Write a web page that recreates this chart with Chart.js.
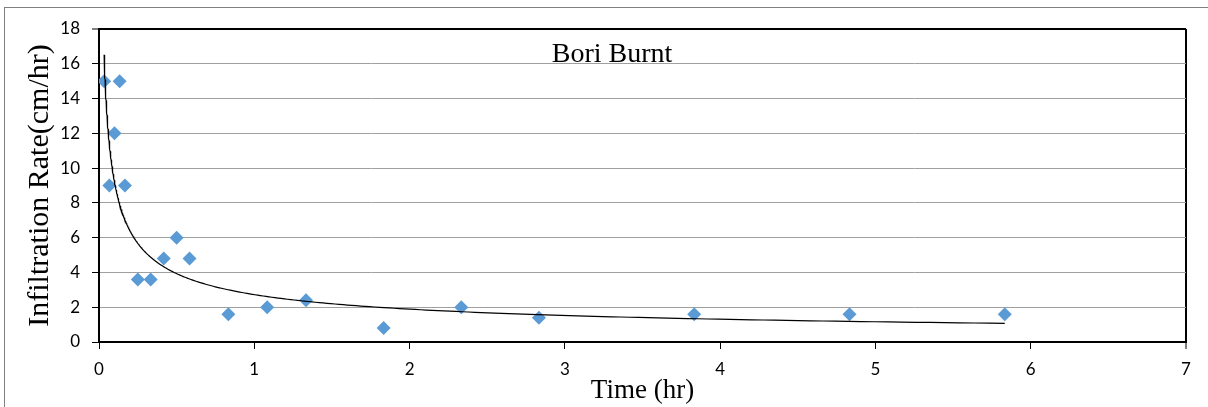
<!DOCTYPE html>
<html>
<head>
    <meta charset="utf-8">
    <title>Bori Burnt</title>
    <script src="https://cdn.jsdelivr.net/npm/chart.js@4.4.1/dist/chart.umd.min.js"></script>
    <style>
        html, body
        {
            margin: 0;
            padding: 0;
            width: 1208px;
            height: 407px;
            overflow: hidden;
            background: #fff;
        }
        #ramka
        {
            position: absolute;
            left: 4px;
            top: 7px;
            width: 1400px;
            height: 600px;
            border: 1px solid #7f7f7f;
        }
        #wykres
        {
            position: absolute;
            left: 0;
            top: 0;
        }
    </style>
</head>
<body>
    <div id="ramka"></div>
    <canvas id="wykres" width="1208" height="407"></canvas>
    <script>
        // pomiary infiltracji - czas [hr] i predkosc [cm/hr]
        const czas = [0.033, 0.067, 0.1, 0.133, 0.167, 0.25, 0.333, 0.417, 0.5, 0.583,
                      0.833, 1.083, 1.333, 1.833, 2.333, 2.833, 3.833, 4.833, 5.833];
        const infiltracja = [15, 9, 12, 15, 9, 3.6, 3.6, 4.8, 6, 4.8,
                             1.6, 2, 2.4, 0.8, 2, 1.4, 1.6, 1.6, 1.6];
        const xTicks = [0, 1, 2, 3, 4, 5, 6, 7];
        const yTicks = [0, 2, 4, 6, 8, 10, 12, 14, 16, 18];

        // linia trendu potegowa y = a*x^b (regresja w log-log, jak w excelu)
        function dopasuj(xs, ys)
        {
            let n = xs.length, sx = 0, sy = 0, sxx = 0, sxy = 0;
            for (let i = 0; i < n; i++)
            {
                let lx = Math.log(xs[i]), ly = Math.log(ys[i]);
                sx += lx; sy += ly; sxx += lx * lx; sxy += lx * ly;
            }
            let b = (n * sxy - sx * sy) / (n * sxx - sx * sx);
            let a = Math.exp((sy - b * sx) / n);
            return {a: a, b: b};
        }
        const trend = dopasuj(czas, infiltracja);
        let trendPunkty = [];
        let xMin = Math.min(...czas), xMax = Math.max(...czas);
        for (let i = 0; i <= 300; i++)
        {
            let x = xMin * Math.pow(xMax / xMin, i / 300);
            trendPunkty.push({x: x, y: trend.a * Math.pow(x, trend.b)});
        }

        // napis w srodku pola wykresu
        const napis = {
            id: 'napis',
            afterDatasetsDraw(chart)
            {
                const ctx = chart.ctx, a = chart.chartArea;
                ctx.save();
                ctx.font = '28px "Liberation Serif"';
                ctx.fillStyle = '#000';
                ctx.textAlign = 'center';
                ctx.textBaseline = 'alphabetic';
                ctx.fillText('Bori Burnt', a.left + (a.right - a.left) * 0.472, a.top + 33);
                ctx.restore();
            }
        };

        const tickFont = {family: 'Lato', size: 17};

        new Chart(document.getElementById('wykres').getContext('2d'), {
            type: 'scatter',
            data: {
                datasets: [{
                    data: czas.map((t, i) => ({x: t, y: infiltracja[i]})),
                    pointStyle: 'rectRot',
                    pointRadius: 7,
                    pointHoverRadius: 7,
                    backgroundColor: '#5b9bd5',
                    borderWidth: 0,
                    order: 2
                }, {
                    data: trendPunkty,
                    showLine: true,
                    borderColor: '#000',
                    borderWidth: 1.2,
                    pointRadius: 0,
                    tension: 0,
                    order: 1
                }]
            },
            options: {
                responsive: false,
                animation: false,
                layout: {padding: {top: 29, right: 22, left: 0, bottom: 0}},
                plugins: {
                    legend: {display: false},
                    tooltip: {enabled: false}
                },
                scales: {
                    x: {
                        type: 'linear',
                        min: 0,
                        max: 7,
                        afterBuildTicks: s => { s.ticks = xTicks.map(v => ({value: v})); },
                        afterFit: s => { s.height = 65; },
                        border: {color: '#000', width: 2},
                        grid: {
                            color: c => (c.tick && c.tick.value === 7) ? '#000' : 'rgba(0,0,0,0)',
                            lineWidth: c => (c.tick && c.tick.value === 7) ? 2 : 1,
                            tickColor: '#000',
                            tickWidth: 1,
                            tickLength: 7
                        },
                        ticks: {font: tickFont, color: '#000', padding: 10, maxRotation: 0},
                        title: {
                            display: true,
                            text: 'Time (hr)',
                            font: {family: '"Liberation Serif"', size: 27},
                            color: '#000',
                            padding: {top: 0, bottom: 0}
                        }
                    },
                    y: {
                        min: 0,
                        max: 18,
                        afterBuildTicks: s => { s.ticks = yTicks.map(v => ({value: v})); },
                        afterFit: s => { s.width = 99; },
                        border: {color: '#000', width: 2},
                        grid: {
                            color: c => (c.tick && c.tick.value === 18) ? '#000' : '#a0a0a0',
                            lineWidth: c => (c.tick && c.tick.value === 18) ? 2 : 1,
                            tickColor: '#000',
                            tickWidth: 1,
                            tickLength: 7
                        },
                        ticks: {font: tickFont, color: '#000', padding: 12},
                        title: {
                            display: true,
                            text: 'Infiltration Rate(cm/hr)',
                            font: {family: '"Liberation Serif"', size: 30},
                            color: '#000',
                            padding: {top: 22, bottom: 0}
                        }
                    }
                }
            },
            plugins: [napis]
        });
    </script>
</body>
</html>
